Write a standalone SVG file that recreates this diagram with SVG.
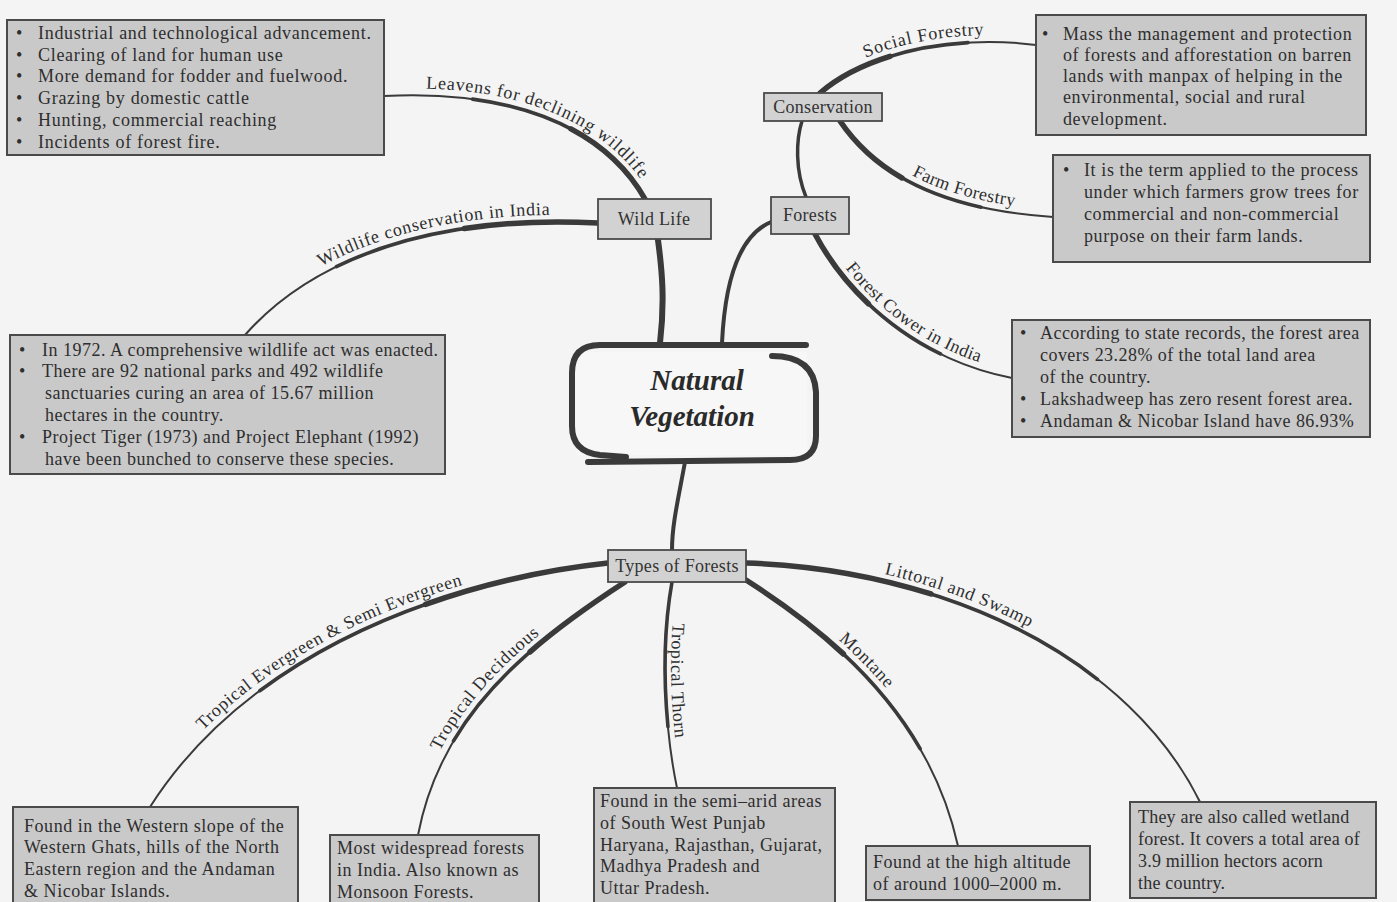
<svg xmlns="http://www.w3.org/2000/svg" width="1397" height="902" viewBox="0 0 1397 902">
<style>
.bg{fill:#f4f4f4}
.box{fill:#c9c9c9;stroke:#4a4a4a;stroke-width:2}
.node{fill:#d2d2d2;stroke:#4a4a4a;stroke-width:1.8}
.t{font-family:"Liberation Serif",serif;font-size:18px;letter-spacing:0.5px;fill:#2e2e2e}
.nt{font-family:"Liberation Serif",serif;font-size:18px;letter-spacing:0.3px;fill:#333}
.lbl{font-family:"Liberation Serif",serif;font-size:18px;letter-spacing:0.6px;fill:#2e2e2e}
.c1{fill:none;stroke:#3a3a3a;stroke-width:2;stroke-linecap:round}
.c2{fill:none;stroke:#3a3a3a;stroke-width:3.6;stroke-dasharray:70 200;stroke-linecap:round}
.c3{fill:none;stroke:#3a3a3a;stroke-width:5.5;stroke-dasharray:35 200;stroke-linecap:round}
.hub{fill:none;stroke:#3a3a3a;stroke-width:6;stroke-linecap:round}
.title{font-family:"Liberation Serif",serif;font-size:29px;font-weight:bold;font-style:italic;fill:#2a2a2a}
</style>
<defs>
<path id="pLeav" d="M384,96 C500,90 600,120 645,199"/>
<path id="pWcon" d="M245,335 C320,250 450,215 598,223"/>
<path id="pSoc" d="M820,93 C870,50 960,35 1036,45"/>
<path id="pFarm" d="M840,121 C880,180 950,210 1053,217"/>
<path id="pCov" d="M815,234 C850,300 920,360 1012,378"/>
<path id="pEver" d="M150,807 C250,650 450,580 608,563"/>
<path id="pDec" d="M418,835 C440,720 520,650 625,582"/>
<path id="pThorn" d="M672,582 C660,650 665,730 677,788"/>
<path id="pMont" d="M746,580 C840,640 930,720 958,846"/>
<path id="pLit" d="M746,563 C950,570 1130,660 1200,802"/>
</defs>
<rect class="bg" x="0" y="0" width="1397" height="902"/>

<g id="connectors">
<g>
<path class="hub" d="M660,343 C665,300 662,270 658,240"/>
<path class="hub" d="M722,343 C725,280 740,235 771,222" style="stroke-width:4"/>
<path class="hub" d="M685,462 C678,500 672,525 672,550" style="stroke-width:4"/>
</g>
<g>
<path class="c1" pathLength="100" d="M645,199 C600,120 500,90 384,96"/>
<path class="c2" pathLength="100" d="M645,199 C600,120 500,90 384,96"/>
<path class="c3" pathLength="100" d="M645,199 C600,120 500,90 384,96"/>
<path class="c1" pathLength="100" d="M598,223 C450,215 320,250 245,335"/>
<path class="c2" pathLength="100" d="M598,223 C450,215 320,250 245,335"/>
<path class="c3" pathLength="100" d="M598,223 C450,215 320,250 245,335"/>
<path class="c1" pathLength="100" d="M806,197 C795,170 796,140 802,121" style="stroke-width:3.5"/>
<path class="c1" pathLength="100" d="M820,93 C870,50 960,35 1036,45"/>
<path class="c2" pathLength="100" d="M820,93 C870,50 960,35 1036,45"/>
<path class="c3" pathLength="100" d="M820,93 C870,50 960,35 1036,45"/>
<path class="c1" pathLength="100" d="M840,121 C880,180 950,210 1053,217"/>
<path class="c2" pathLength="100" d="M840,121 C880,180 950,210 1053,217"/>
<path class="c3" pathLength="100" d="M840,121 C880,180 950,210 1053,217"/>
<path class="c1" pathLength="100" d="M815,234 C850,300 920,360 1012,378"/>
<path class="c2" pathLength="100" d="M815,234 C850,300 920,360 1012,378"/>
<path class="c3" pathLength="100" d="M815,234 C850,300 920,360 1012,378"/>
<path class="c1" pathLength="100" d="M608,563 C450,580 250,650 150,807"/>
<path class="c2" pathLength="100" d="M608,563 C450,580 250,650 150,807"/>
<path class="c3" pathLength="100" d="M608,563 C450,580 250,650 150,807"/>
<path class="c1" pathLength="100" d="M625,582 C520,650 440,720 418,835"/>
<path class="c2" pathLength="100" d="M625,582 C520,650 440,720 418,835"/>
<path class="c3" pathLength="100" d="M625,582 C520,650 440,720 418,835"/>
<path class="c1" pathLength="100" d="M672,582 C660,650 665,730 677,788"/>
<path class="c2" pathLength="100" d="M672,582 C660,650 665,730 677,788"/>
<path class="c1" pathLength="100" d="M746,580 C840,640 930,720 958,846"/>
<path class="c2" pathLength="100" d="M746,580 C840,640 930,720 958,846"/>
<path class="c3" pathLength="100" d="M746,580 C840,640 930,720 958,846"/>
<path class="c1" pathLength="100" d="M746,563 C950,570 1130,660 1200,802"/>
<path class="c2" pathLength="100" d="M746,563 C950,570 1130,660 1200,802"/>
<path class="c3" pathLength="100" d="M746,563 C950,570 1130,660 1200,802"/>
</g>
<g>
<text class="lbl" dy="-7"><textPath href="#pLeav" startOffset="54%" text-anchor="middle">Leavens for declining wildlife</textPath></text>
<text class="lbl" dy="-7"><textPath href="#pWcon" startOffset="57%" text-anchor="middle">Wildlife conservation in India</textPath></text>
<text class="lbl" dy="-7"><textPath href="#pSoc" startOffset="51%" text-anchor="middle">Social Forestry</textPath></text>
<text class="lbl" dy="-7"><textPath href="#pFarm" startOffset="61%" text-anchor="middle">Farm Forestry</textPath></text>
<text class="lbl" dy="-7"><textPath href="#pCov" startOffset="52%" text-anchor="middle">Forest Cower in India</textPath></text>
<text class="lbl" dy="-7"><textPath href="#pEver" startOffset="45%" text-anchor="middle">Tropical Evergreen &amp; Semi Evergreen</textPath></text>
<text class="lbl" dy="-7"><textPath href="#pDec" startOffset="48%" text-anchor="middle">Tropical Deciduous</textPath></text>
<text class="lbl" dy="-6"><textPath href="#pThorn" startOffset="48%" text-anchor="middle">Tropical Thorn</textPath></text>
<text class="lbl" dy="-7"><textPath href="#pMont" startOffset="41%" text-anchor="middle">Montane</textPath></text>
<text class="lbl" dy="-7"><textPath href="#pLit" startOffset="40%" text-anchor="middle">Littoral and Swamp</textPath></text>
</g>
</g>

<g id="center">
<path d="M576,352 L807,352 L807,455 L576,455 Z" fill="#f7f7f7"/>
<path class="hub" d="M806,345 L600,345 Q572,345 572,373 L572,426 Q572,452 600,455 L626,457"/>
<path class="hub" d="M772,356 Q814,356 816,392 L816,436 Q816,460 790,460 L588,462"/>
<text class="title" x="697" y="390" text-anchor="middle">Natural</text>
<text class="title" x="692" y="426" text-anchor="middle">Vegetation</text>
</g>

<g id="wildlife-node">
<rect class="node" x="598" y="199" width="113" height="40"/>
<text class="nt" x="654" y="225" text-anchor="middle">Wild Life</text>
</g>
<g id="forests-node">
<rect class="node" x="771" y="197" width="78" height="37"/>
<text class="nt" x="810" y="221" text-anchor="middle">Forests</text>
</g>
<g id="conservation-node">
<rect class="node" x="764" y="93" width="118" height="28"/>
<text class="nt" x="823" y="113" text-anchor="middle">Conservation</text>
</g>
<g id="types-node">
<rect class="node" x="608" y="550" width="138" height="32"/>
<text class="nt" x="677" y="572" text-anchor="middle">Types of Forests</text>
</g>

<g id="decline-box">
<rect class="box" x="7" y="20" width="377" height="135"/>
<text class="t" style="letter-spacing:0.7px">
<tspan x="16" y="39">•</tspan><tspan x="38" y="39">Industrial and technological advancement.</tspan>
<tspan x="16" y="61">•</tspan><tspan x="38" y="61">Clearing of land for human use</tspan>
<tspan x="16" y="82">•</tspan><tspan x="38" y="82">More demand for fodder and fuelwood.</tspan>
<tspan x="16" y="104">•</tspan><tspan x="38" y="104">Grazing by domestic cattle</tspan>
<tspan x="16" y="126">•</tspan><tspan x="38" y="126">Hunting, commercial reaching</tspan>
<tspan x="16" y="148">•</tspan><tspan x="38" y="148">Incidents of forest fire.</tspan>
</text>
</g>

<g id="wildcons-box">
<rect class="box" x="10" y="335" width="435" height="139"/>
<text class="t" style="letter-spacing:0.5px">
<tspan x="19" y="356">•</tspan><tspan x="42" y="356">In 1972. A comprehensive wildlife act was enacted.</tspan>
<tspan x="19" y="377">•</tspan><tspan x="42" y="377">There are 92 national parks and 492 wildlife</tspan>
<tspan x="45" y="399">sanctuaries curing an area of 15.67 million</tspan>
<tspan x="45" y="421">hectares in the country.</tspan>
<tspan x="19" y="443">•</tspan><tspan x="42" y="443">Project Tiger (1973) and Project Elephant (1992)</tspan>
<tspan x="45" y="465">have been bunched to conserve these species.</tspan>
</text>
</g>

<g id="social-box">
<rect class="box" x="1036" y="15" width="330" height="120"/>
<text class="t" style="letter-spacing:0.6px">
<tspan x="1042" y="40">•</tspan><tspan x="1063" y="40">Mass the management and protection</tspan>
<tspan x="1063" y="61">of forests and afforestation on barren</tspan>
<tspan x="1063" y="82">lands with manpax of helping in the</tspan>
<tspan x="1063" y="103">environmental, social and rural</tspan>
<tspan x="1063" y="125">development.</tspan>
</text>
</g>

<g id="farm-box">
<rect class="box" x="1053" y="155" width="317" height="107"/>
<text class="t" style="letter-spacing:0.6px">
<tspan x="1063" y="176">•</tspan><tspan x="1084" y="176">It is the term applied to the process</tspan>
<tspan x="1084" y="198">under which farmers grow trees for</tspan>
<tspan x="1084" y="220">commercial and non-commercial</tspan>
<tspan x="1084" y="242">purpose on their farm lands.</tspan>
</text>
</g>

<g id="cover-box">
<rect class="box" x="1012" y="320" width="358" height="117"/>
<text class="t" style="letter-spacing:0.45px">
<tspan x="1020" y="339">•</tspan><tspan x="1040" y="339">According to state records, the forest area</tspan>
<tspan x="1040" y="361">covers 23.28% of the total land area</tspan>
<tspan x="1040" y="383">of the country.</tspan>
<tspan x="1020" y="405">•</tspan><tspan x="1040" y="405">Lakshadweep has zero resent forest area.</tspan>
<tspan x="1020" y="427">•</tspan><tspan x="1040" y="427">Andaman &amp; Nicobar Island have 86.93%</tspan>
</text>
</g>

<g id="evergreen-box">
<rect class="box" x="13" y="807" width="285" height="100"/>
<text class="t" style="letter-spacing:0.55px">
<tspan x="24" y="832">Found in the Western slope of the</tspan>
<tspan x="24" y="853">Western Ghats, hills of the North</tspan>
<tspan x="24" y="875">Eastern region and the Andaman</tspan>
<tspan x="24" y="897">&amp; Nicobar Islands.</tspan>
</text>
</g>

<g id="deciduous-box">
<rect class="box" x="330" y="835" width="209" height="72"/>
<text class="t">
<tspan x="337" y="854">Most widespread forests</tspan>
<tspan x="337" y="876">in India. Also known as</tspan>
<tspan x="337" y="898">Monsoon Forests.</tspan>
</text>
</g>

<g id="thorn-box">
<rect class="box" x="594" y="788" width="241" height="119"/>
<text class="t">
<tspan x="600" y="807">Found in the semi–arid areas</tspan>
<tspan x="600" y="829">of South West Punjab</tspan>
<tspan x="600" y="851">Haryana, Rajasthan, Gujarat,</tspan>
<tspan x="600" y="872">Madhya Pradesh and</tspan>
<tspan x="600" y="894">Uttar Pradesh.</tspan>
</text>
</g>

<g id="montane-box">
<rect class="box" x="866" y="846" width="224" height="54"/>
<text class="t">
<tspan x="873" y="868">Found at the high altitude</tspan>
<tspan x="873" y="890">of around 1000–2000 m.</tspan>
</text>
</g>

<g id="littoral-box">
<rect class="box" x="1130" y="802" width="246" height="96"/>
<text class="t" style="letter-spacing:0.2px">
<tspan x="1138" y="823">They are also called wetland</tspan>
<tspan x="1138" y="845">forest. It covers a total area of</tspan>
<tspan x="1138" y="867">3.9 million hectors acorn</tspan>
<tspan x="1138" y="889">the country.</tspan>
</text>
</g>
</svg>
